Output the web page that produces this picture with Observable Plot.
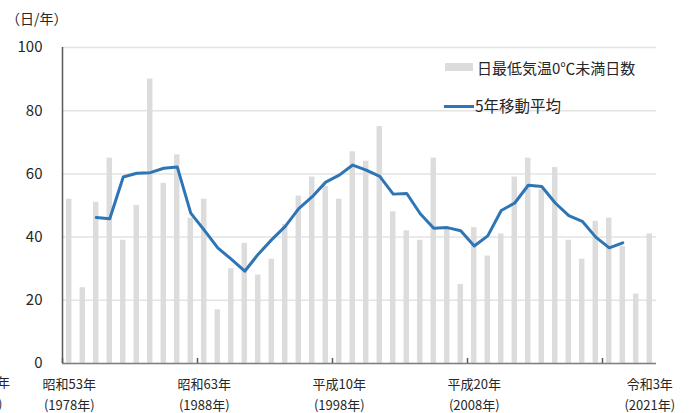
<!DOCTYPE html>
<html>
<head>
<meta charset="utf-8">
<script src="https://cdn.jsdelivr.net/npm/d3@7"></script>
<script src="https://cdn.jsdelivr.net/npm/@observablehq/plot@0.6"></script>
<style>
  body { margin: 0; background: #fff; }
  #wrap { position: relative; width: 691px; height: 413px; overflow: hidden; font-family: "Noto Sans CJK JP", "Noto Sans", sans-serif; color: #262626; }
  .abs { position: absolute; white-space: nowrap; }
</style>
</head>
<body>
<div id="wrap"></div>
<script>
// ---- data ----
const years = ["1978","1979","1980","1981","1982","1983","1984","1985","1986","1987","1988","1989","1990","1991","1992","1993","1994","1995","1996","1997","1998","1999","2000","2001","2002","2003","2004","2005","2006","2007","2008","2009","2010","2011","2012","2013","2014","2015","2016","2017","2018","2019","2020","2021"];
const frostDays = [52,24,51,65,39,50,90,57,66,46,52,17,30,38,28,33,44,53,59,56,52,67,64,75,48,42,39,65,43,25,43,34,41,59,65,55,62,39,33,45,46,37,22,41];
const maYears = ["1980","1981","1982","1983","1984","1985","1986","1987","1988","1989","1990","1991","1992","1993","1994","1995","1996","1997","1998","1999","2000","2001","2002","2003","2004","2005","2006","2007","2008","2009","2010","2011","2012","2013","2014","2015","2016","2017","2018","2019"];
const maValues = [46.2,45.8,59.0,60.2,60.4,61.8,62.2,47.6,42.2,36.6,33.0,29.2,34.6,39.2,43.4,49.0,52.8,57.4,59.6,62.8,61.2,59.2,53.6,53.8,47.4,42.8,43.0,42.0,37.2,40.4,48.4,50.8,56.4,56.0,50.8,46.8,45.0,40.0,36.6,38.2];
const yTicks = [0,20,40,60,80,100];
const xLabelYears = ["1978","1988","1998","2008","2021"];
const xLabelText = {
  "1978": "昭和53年\n(1978年)",
  "1988": "昭和63年\n(1988年)",
  "1998": "平成10年\n(1998年)",
  "2008": "平成20年\n(2008年)",
  "2021": "令和3年\n(2021年)"
};
const xTickYears = ["1978","1988","1998","2008","2018"];
const yUnit = "（日/年）";
const legendBar = "日最低気温0℃未満日数";
const legendLine = "5年移動平均";

const bars = years.map((y, i) => ({year: y, value: frostDays[i]}));
const ma = maYears.map((y, i) => ({year: y, value: maValues[i]}));

const W = 691, H = 413, mT = 47, mB = 50, mL = 62, mR = 35;
const step = (W - mL - mR) / years.length;

const chart = Plot.plot({
  width: W,
  height: H,
  marginTop: mT,
  marginBottom: mB,
  marginLeft: mL,
  marginRight: mR,
  style: {fontFamily: '"Noto Sans CJK JP", sans-serif', color: "#262626", background: "transparent"},
  x: {type: "band", domain: years, paddingInner: 0.6, paddingOuter: 0.3, round: false, axis: null},
  y: {domain: [0, 100], axis: null},
  marks: [
    Plot.ruleY(yTicks, {stroke: "#e3e3e3", strokeWidth: 1.5}),
    Plot.barY(bars, {x: "year", y: "value", fill: "#dcdcdc"}),
    Plot.lineY(ma, {x: "year", y: "value", stroke: "#2e75b6", strokeWidth: 3, strokeLinejoin: "round"}),
    Plot.ruleY([0], {stroke: "#7f7f7f", strokeWidth: 1.5}),
    Plot.ruleX([years[0]], {dx: -step / 2, stroke: "#595959", strokeWidth: 1.5}),
    Plot.ruleX(xTickYears, {dx: -step / 2, insetTop: (H - mT - mB) - 5, stroke: "#595959", strokeWidth: 1.5}),
    Plot.tickY(yTicks, {x: years[0], dx: -step / 2 + 2.5, insetLeft: 0, stroke: "#595959", strokeWidth: 1.2}),
    Plot.axisY({ticks: yTicks, tickSize: 0, tickPadding: 20, fontSize: 15, anchor: "left", label: null}),
    Plot.axisX({ticks: xLabelYears, tickFormat: d => xLabelText[d], tickSize: 0, tickPadding: 10, fontSize: 13, lineHeight: 1.65, anchor: "bottom", label: null})
  ]
});

const wrap = document.getElementById("wrap");
wrap.appendChild(chart);

function addText(txt, left, top, size, extra) {
  const d = document.createElement("div");
  d.className = "abs";
  d.textContent = txt;
  d.style.left = left + "px";
  d.style.top = top + "px";
  d.style.fontSize = size + "px";
  d.style.lineHeight = "1";
  if (extra) Object.assign(d.style, extra);
  wrap.appendChild(d);
  return d;
}
function addBox(left, top, w, h, color) {
  const d = document.createElement("div");
  d.className = "abs";
  Object.assign(d.style, {left: left + "px", top: top + "px", width: w + "px", height: h + "px", background: color});
  wrap.appendChild(d);
}
// y unit
addText(yUnit, 6, 11, 14);
// legend
addBox(445, 63, 28, 8, "#dcdcdc");
addText(legendBar, 477, 60, 15);
addBox(444, 105, 30, 3, "#2e75b6");
addText(legendLine, 475, 98, 15.5);
// clipped label remnant at far left
addText("年", -3, 375, 13);
addText(")", -2, 397, 13);
</script>
</body>
</html>
